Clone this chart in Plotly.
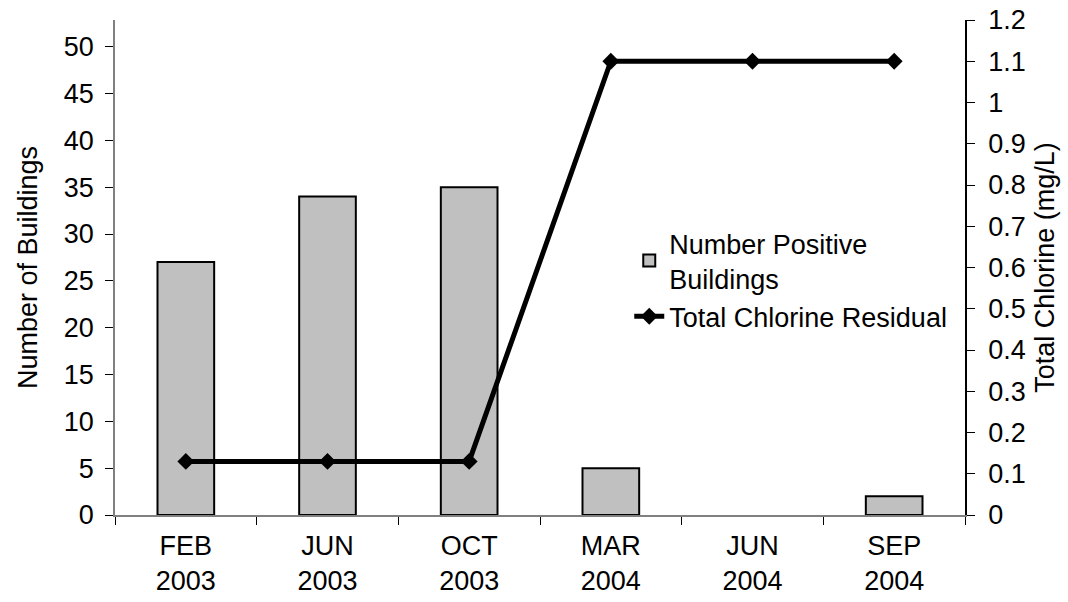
import plotly.graph_objects as go

categories = ["FEB<br>2003", "JUN<br>2003", "OCT<br>2003", "MAR<br>2004", "JUN<br>2004", "SEP<br>2004"]
positive_buildings = [27, 34, 35, 5, 0, 2]
chlorine_residual = [0.13, 0.13, 0.13, 1.1, 1.1, 1.1]
left_ticks = list(range(0, 55, 5))
right_ticks = [round(i * 0.1, 1) for i in range(13)]
right_labels = ["0", "0.1", "0.2", "0.3", "0.4", "0.5", "0.6", "0.7", "0.8", "0.9", "1", "1.1", "1.2"]

FONT = "Liberation Sans, Arial, sans-serif"
FS = 27

bar_line_widths = [0 if v == 0 else 2 for v in positive_buildings]

fig = go.Figure()
fig.add_trace(go.Bar(
    x=categories, y=positive_buildings, name="Number Positive<br>Buildings",
    marker=dict(color="#C0C0C0", line=dict(color="black", width=bar_line_widths)),
    width=0.4, yaxis="y",
))
fig.add_trace(go.Scatter(
    x=categories, y=chlorine_residual, name="Total Chlorine Residual",
    mode="lines+markers", line=dict(color="black", width=5),
    marker=dict(symbol="diamond", size=13, color="black"), yaxis="y2",
))

fig.update_layout(
    width=1068, height=602,
    margin=dict(l=115, r=103, t=20, b=87),
    paper_bgcolor="white", plot_bgcolor="white",
    font=dict(family=FONT, size=FS, color="black"),
    showlegend=True,
    legend=dict(x=0.605, y=0.598, xanchor="left", yanchor="top",
                bgcolor="rgba(0,0,0,0)", font=dict(size=FS), tracegroupgap=6),
    xaxis=dict(type="category", categoryorder="array", categoryarray=categories,
               range=[-0.5, 5.5], tickson="boundaries", ticks="outside", ticklen=8,
               tickcolor="black", showline=True, linecolor="#808080", linewidth=1.5,
               showgrid=False, zeroline=False, tickfont=dict(size=FS), automargin=False,
               ticklabelstandoff=6, ticklabeloverflow="allow"),
    xaxis2=dict(overlaying="x", range=[-0.5, 5.5], tickvals=[i - 0.5 for i in range(7)],
                ticks="inside", ticklen=8, tickcolor="black", showticklabels=False,
                showline=False, showgrid=False, zeroline=False, automargin=False),
    yaxis=dict(range=[0, 52.85], tickvals=left_ticks, ticks="outside", ticklen=8,
               tickcolor="black", showline=True, linecolor="#808080", linewidth=1.5,
               showgrid=False, zeroline=False, automargin=False,
               title=dict(text="Number of Buildings", standoff=18, font=dict(size=FS)),
               ticklabelstandoff=6, ticklabeloverflow="allow"),
    yaxis2=dict(range=[0, 1.2], tickvals=right_ticks, ticktext=right_labels, overlaying="y",
                side="right", ticks="outside", ticklen=8, tickcolor="black",
                showline=True, linecolor="black", linewidth=1.5, showgrid=False,
                zeroline=False, ticklabelstandoff=8, automargin=False,
                ticklabeloverflow="allow",
                title=dict(text="Total Chlorine (mg/L)", standoff=10, font=dict(size=FS))),
    yaxis3=dict(overlaying="y", range=[0, 52.85], tickvals=left_ticks, ticks="inside",
                ticklen=8, tickcolor="black", showticklabels=False, showline=False,
                showgrid=False, zeroline=False, side="left", automargin=False),
    yaxis4=dict(overlaying="y", range=[0, 1.2], tickvals=right_ticks, ticks="inside",
                ticklen=8, tickcolor="black", showticklabels=False, showline=False,
                showgrid=False, zeroline=False, side="right", automargin=False),
)

fig.write_html("out.html", config={"displayModeBar": False},
               post_script="document.body.style.margin='0';")
